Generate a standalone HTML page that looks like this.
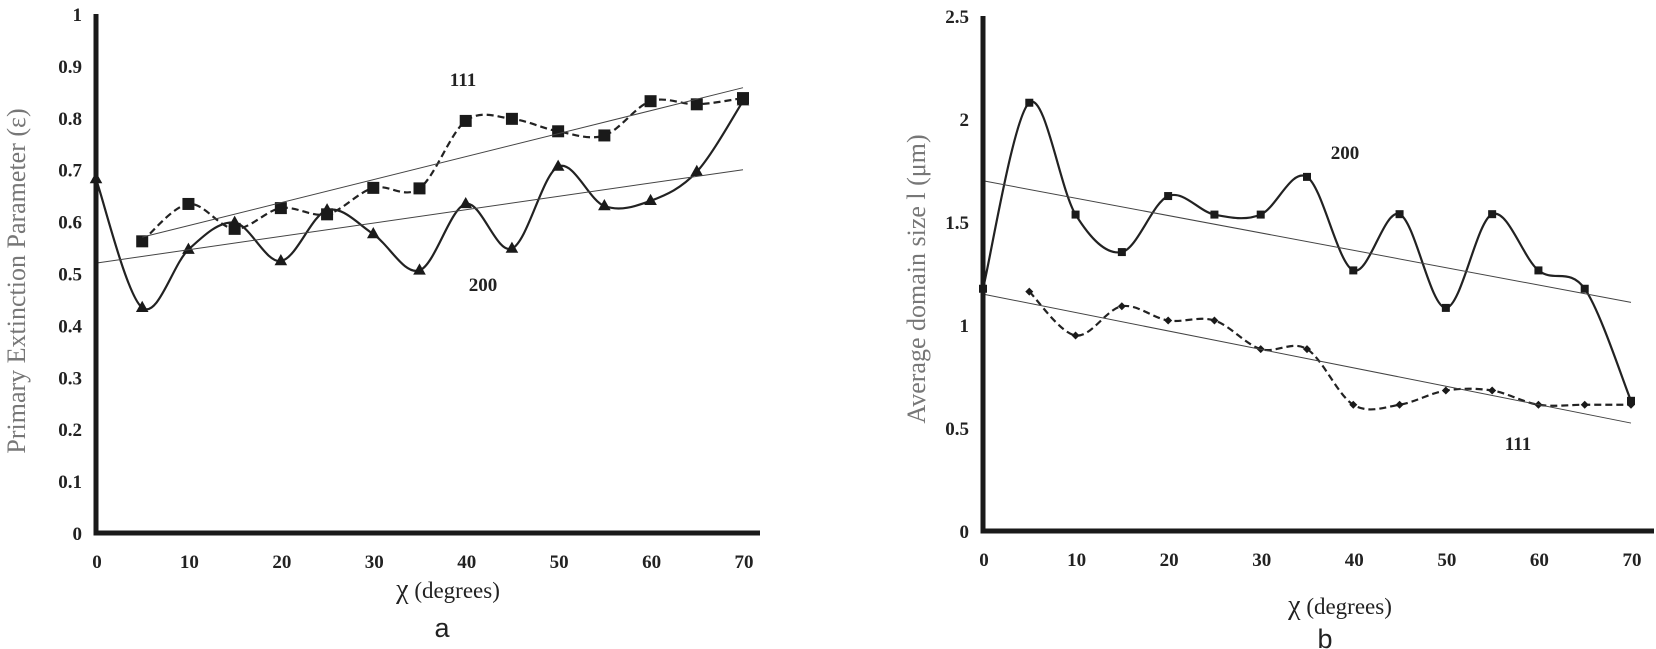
<!DOCTYPE html>
<html><head><meta charset="utf-8"><style>
html,body{margin:0;padding:0;background:#fff;}
svg{display:block;}
.tick{font-family:"Liberation Serif",serif;font-weight:bold;font-size:19px;fill:#222;}
.ttl{font-family:"Liberation Serif",serif;font-size:26px;fill:#777;}
.xt{font-family:"Liberation Serif",serif;font-size:23px;fill:#222;}
.lab{font-family:"Liberation Serif",serif;font-weight:bold;font-size:19px;fill:#222;}
.pan{font-family:"Liberation Sans",sans-serif;font-size:27px;fill:#222;}
</style></head><body>
<svg id="chart" width="1656" height="649" viewBox="0 0 1656 649"></svg>
<script>
const xTicks=[0,10,20,30,40,50,60,70];
const aYTicks=["0","0.1","0.2","0.3","0.4","0.5","0.6","0.7","0.8","0.9","1"];
const aX111=[5,10,15,20,25,30,35,40,45,50,55,60,65,70];
const aY111=[0.562,0.634,0.586,0.626,0.614,0.665,0.664,0.794,0.798,0.774,0.766,0.832,0.826,0.838];
const aX200=[0,5,10,15,20,25,30,35,40,45,50,55,60,65,70];
const aY200=[0.682,0.434,0.546,0.598,0.524,0.622,0.576,0.506,0.634,0.548,0.706,0.630,0.640,0.696,0.832];
const aTrend111=[[5,0.57],[70,0.858]];
const aTrend200=[[0,0.52],[70,0.70]];
const bYTicks=["0","0.5","1","1.5","2","2.5"];
const bX200=[0,5,10,15,20,25,30,35,40,45,50,55,60,65,70];
const bY200=[1.176,2.079,1.536,1.354,1.626,1.536,1.536,1.719,1.265,1.538,1.083,1.538,1.265,1.176,0.632];
const bX111=[5,10,15,20,25,30,35,40,45,50,55,60,65,70];
const bY111=[1.162,0.949,1.091,1.022,1.022,0.883,0.883,0.613,0.613,0.682,0.682,0.613,0.613,0.613];
const bTrend200=[[0,1.70],[70,1.11]];
const bTrend111=[[0,1.15],[70,0.524]];

const NS="http://www.w3.org/2000/svg";
const svg=document.getElementById('chart');
function mk(tag,attrs,parent,text){const e=document.createElementNS(NS,tag);for(const k in attrs)e.setAttribute(k,attrs[k]);if(text!==undefined)e.textContent=text;(parent||svg).appendChild(e);return e;}
function smooth(pts){let d=`M${pts[0][0]},${pts[0][1]}`;for(let i=0;i<pts.length-1;i++){const p0=pts[Math.max(0,i-1)],p1=pts[i],p2=pts[i+1],p3=pts[Math.min(pts.length-1,i+2)];const t=1/6;d+=` C${p1[0]+(p2[0]-p0[0])*t},${p1[1]+(p2[1]-p0[1])*t} ${p2[0]-(p3[0]-p1[0])*t},${p2[1]-(p3[1]-p1[1])*t} ${p2[0]},${p2[1]}`;}return d;}

function panel(cfg){
  const g=mk('g',{});
  
  
  const X=v=>cfg.x0+(v-0)/70*(cfg.x70-cfg.x0);
  const Y=v=>cfg.y0-(v/cfg.ymax)*(cfg.y0-cfg.ytop);
  cfg.series.forEach(s=>{
    const pts=s.xs.map((x,i)=>[X(x),Y(s.ys[i])]);
    const p=mk('path',{d:smooth(pts),fill:'none',stroke:'#222','stroke-width':2.2,'stroke-dasharray':s.dash||'none'},g);
    
    
    pts.forEach(([px,py])=>{
      let m;
      if(s.marker==='square'){const h=s.size/2;m=mk('rect',{x:px-h,y:py-h,width:s.size,height:s.size,fill:'#1a1a1a'},g);}
      else if(s.marker==='tri'){const h=s.size;m=mk('polygon',{points:`${px},${py-h} ${px-h*0.9},${py+h*0.6} ${px+h*0.9},${py+h*0.6}`,fill:'#1a1a1a'},g);}
      else {const h=s.size;m=mk('polygon',{points:`${px},${py-h} ${px+h},${py} ${px},${py+h} ${px-h},${py}`,fill:'#1a1a1a'},g);}
      
      
    });
  });
  cfg.trends.forEach(t=>{
    const l=mk('line',{x1:X(t.p[0][0]),y1:Y(t.p[0][1]),x2:X(t.p[1][0]),y2:Y(t.p[1][1]),stroke:'#444','stroke-width':1},g);
    
    
  });
  const ax=mk('path',{d:`M${cfg.x0},${cfg.ytop} L${cfg.x0},${cfg.y0} L${cfg.xend},${cfg.y0}`,fill:'none',stroke:'#1a1a1a','stroke-width':5},g);
  
  
  cfg.yTicks.forEach(t=>{
    const e=mk('text',{x:cfg.x0-14,y:Y(parseFloat(t))+7,'text-anchor':'end',class:'tick'},g,t);
    
    
  });
  xTicks.forEach(t=>{
    const e=mk('text',{x:X(t)+1,y:cfg.y0+35,'text-anchor':'middle',class:'tick'},g,String(t));
    
    
  });
  const yt=mk('text',{x:0,y:0,'text-anchor':'middle',class:'ttl','font-size':cfg.ytfs,transform:`translate(${cfg.ytx},${cfg.yty}) rotate(-90)`},g,cfg.ytitle);
  
  
  const xt=mk('text',{x:cfg.xtx,y:cfg.xty,'text-anchor':'middle',class:'xt'},g);
  
  
  mk('tspan',{'font-size':'28px'},xt,'χ');
  mk('tspan',{},xt,' (degrees)');
  cfg.labels.forEach(l=>{
    const e=mk('text',{x:l[0],y:l[1],'text-anchor':'middle',class:'lab'},g,l[2]);
    
    
  });
  const pn=mk('text',{x:cfg.pan[0],y:cfg.pan[1],'text-anchor':'middle',class:'pan'},g,cfg.pan[2]);
  
  
}

panel({name:'panel-a',x0:96,x70:743,xend:760,y0:533,ytop:14,ymax:1,yTicks:aYTicks,
  series:[{name:'series-111',xs:aX111,ys:aY111,marker:'square',size:12,dash:'7,4'},
          {name:'series-200',xs:aX200,ys:aY200,marker:'tri',size:7}],
  trends:[{name:'trend-111',p:aTrend111},{name:'trend-200',p:aTrend200}],
  ytitle:'Primary Extinction Parameter (ε)',ytfs:'31px',ytx:25,yty:281,xtx:448,xty:598,
  labels:[[463,86,'111'],[483,291,'200']],pan:[442,637,'a']});

panel({name:'panel-b',x0:983,x70:1631,xend:1654,y0:531,ytop:16,ymax:2.5,yTicks:bYTicks,
  series:[{name:'series-200',xs:bX200,ys:bY200,marker:'square',size:8},
          {name:'series-111',xs:bX111,ys:bY111,marker:'diamond',size:4,dash:'7,4'}],
  trends:[{name:'trend-200',p:bTrend200},{name:'trend-111',p:bTrend111}],
  ytitle:'Average domain size l (μm)',ytfs:'30px',ytx:925,yty:279,xtx:1340,xty:614,
  labels:[[1345,159,'200'],[1518,450,'111']],pan:[1325,648,'b']});
</script>
</body></html>
